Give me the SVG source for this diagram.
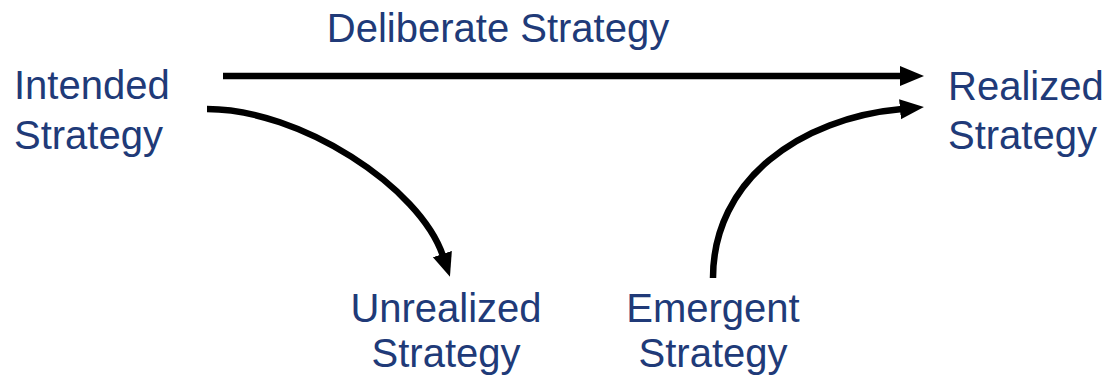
<svg xmlns="http://www.w3.org/2000/svg" width="1103" height="377" viewBox="0 0 1103 377">
  <style>
    .lbl { font-family: "Liberation Sans", Arial, sans-serif; font-size: 40px; fill: #203A78; }
    .mid { text-anchor: middle; }
    .conn { fill: none; stroke: #000; stroke-width: 6.5; }
  </style>
  <defs>
    <marker id="head" markerUnits="userSpaceOnUse" markerWidth="26" markerHeight="22" refX="2" refY="11" orient="auto">
      <path d="M0,1 L24,11 L0,21 Z" fill="#000"/>
    </marker>
  </defs>

  <g id="connectors">
    <!-- deliberate: intended to realized -->
    <path class="conn" d="M223,76 L902,76" marker-end="url(#head)"/>
    <!-- intended bending down to unrealized -->
    <path class="conn" d="M207,109 C300,109 420,187 443,256" marker-end="url(#head)"/>
    <!-- emergent rising up to realized -->
    <path class="conn" d="M713,278 C713,180 800,118 902,109" marker-end="url(#head)"/>
  </g>

  <g id="intended">
    <text class="lbl" x="14" y="99">Intended<tspan x="14" y="149">Strategy</tspan></text>
  </g>

  <g id="deliberate">
    <text class="lbl mid" x="498" y="42">Deliberate Strategy</text>
  </g>

  <g id="realized">
    <text class="lbl" x="948" y="100">Realized<tspan x="948" y="149">Strategy</tspan></text>
  </g>

  <g id="unrealized">
    <text class="lbl mid" x="446" y="322">Unrealized<tspan x="446" y="367">Strategy</tspan></text>
  </g>

  <g id="emergent">
    <text class="lbl mid" x="713" y="322">Emergent<tspan x="713" y="367">Strategy</tspan></text>
  </g>
</svg>
